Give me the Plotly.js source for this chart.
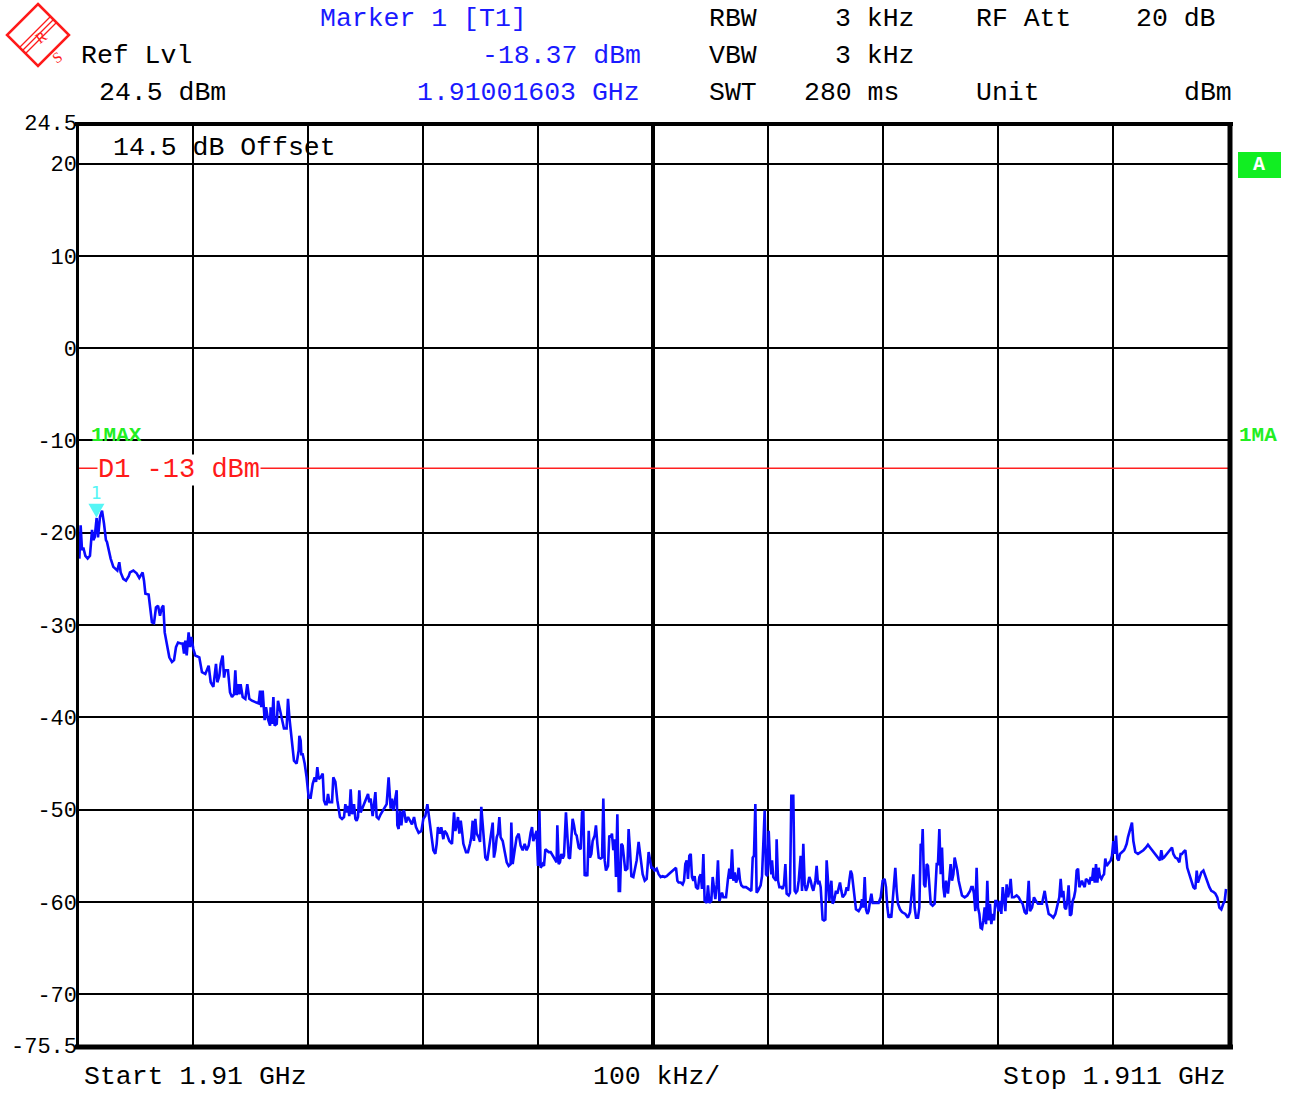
<!DOCTYPE html>
<html>
<head>
<meta charset="utf-8">
<script src="https://cdn.plot.ly/plotly-3.0.1.min.js"></script>
<style>html,body{margin:0;padding:0;background:#fff;}#chart{width:1289px;height:1093px;}</style>
</head>
<body>
<div id="chart"></div>
<script>
// ---- Data (frequency offset from start, kHz; level in dBm) ----
const startLabel = "Start 1.91 GHz";
const stopLabel = "Stop 1.911 GHz";
const spanLabel = "100 kHz/";
const spanKHz = 1000;
const divKHz = 100;

const freqKHz = [
1.2,2.3,3.5,4.6,6.4,8.4,10.4,12.2,13.3,14.5,16.2,17.4,19.1,20.9,22.6,24.3,25.2,28.4,30.7,34.2,
35.9,37.1,39.4,41.7,44.1,45.2,48.1,51.0,53.3,55.1,56.2,57.4,58.6,61.4,63.2,64.3,66.1,67.8,69.6,71.3,
73.0,74.2,75.4,77.1,79.4,81.7,83.5,85.2,87.0,89.3,91.0,92.2,93.3,94.5,96.2,97.4,98.6,100.3,102.0,105.5,
107.8,110.7,113.6,115.4,117.7,120.0,121.2,122.9,124.1,125.8,127.0,128.1,130.4,132.2,133.9,135.7,136.8,137.9,139.1,140.3,
141.4,143.2,145.5,147.2,149.0,151.3,154.8,157.1,158.3,159.4,160.6,162.3,163.5,165.2,167.0,167.5,168.7,169.9,171.0,172.8,
173.9,175.7,177.4,179.1,181.4,182.6,183.8,185.5,187.8,190.1,191.9,192.5,193.6,194.2,195.4,197.1,198.8,200.6,202.3,204.1,
205.8,207.0,208.1,209.3,211.0,212.8,213.9,215.1,216.2,217.4,218.6,220.9,222.0,223.8,225.5,227.8,229.6,231.3,232.5,233.6,
234.8,235.9,237.1,238.3,240.0,241.2,242.3,243.5,244.6,245.8,247.0,248.1,249.8,251.0,252.2,253.3,254.5,256.2,257.4,258.6,
259.7,261.4,263.2,264.9,266.6,268.4,270.1,271.9,273.0,274.2,275.9,277.1,277.7,278.8,280.0,281.2,282.3,283.5,285.2,287.0,
288.7,290.4,292.2,293.9,296.2,298.6,300.3,302.0,303.8,304.9,306.1,307.8,309.0,310.7,311.9,313.0,314.8,315.9,317.7,318.8,
320.6,322.9,325.2,327.0,328.1,329.3,330.4,331.6,332.8,333.9,335.1,337.4,339.1,340.9,342.0,343.2,344.3,345.5,346.7,348.4,
349.6,350.7,351.9,353.0,354.2,355.9,357.1,358.3,359.4,360.6,361.7,362.9,364.1,365.2,366.4,367.5,369.3,371.0,372.8,374.5,
376.2,376.8,378.0,379.7,381.4,383.2,384.9,386.7,388.4,390.1,391.9,393.6,394.8,395.9,397.7,398.8,400.0,401.2,402.3,404.1,
405.2,406.4,407.5,409.3,411.0,412.8,414.5,416.2,416.8,418.0,419.1,420.3,421.5,422.6,424.3,425.5,426.7,427.8,429.0,430.1,
431.3,432.5,433.6,435.4,437.1,438.3,439.4,440.6,441.7,442.9,444.1,445.2,446.4,447.5,449.3,450.4,451.6,452.8,454.5,455.7,
456.8,458.0,459.1,460.9,462.0,463.2,464.3,465.5,466.7,467.8,469.0,470.2,471.3,472.5,473.6,474.8,475.9,477.7,478.8,480.0,
481.2,482.9,484.1,485.8,487.5,489.3,491.0,492.8,494.5,496.2,497.4,498.6,499.7,501.4,503.2,504.9,506.7,508.4,510.1,511.9,
513.6,515.4,517.1,518.8,520.0,521.2,522.3,524.1,525.8,527.0,528.1,529.3,530.4,531.6,532.8,533.9,535.1,536.2,537.4,539.1,
540.3,541.5,542.6,543.8,544.9,546.7,547.8,549.0,550.7,551.9,553.0,554.2,555.4,556.5,557.7,558.8,560.0,561.2,563.5,565.2,
566.4,567.5,568.7,569.9,571.0,572.2,573.3,574.5,575.7,576.8,578.6,580.9,583.2,585.5,586.7,587.8,589.0,590.1,591.3,592.5,
593.6,594.8,595.9,597.1,598.3,599.4,600.6,601.7,602.9,603.5,604.6,605.8,607.0,607.5,608.7,609.9,611.6,612.8,613.9,615.1,
616.2,618.0,619.1,620.3,622.0,623.2,624.3,625.5,626.7,628.4,629.6,630.7,631.9,633.0,634.2,635.9,637.1,638.3,639.4,641.2,
642.3,643.5,644.6,645.8,647.5,648.7,649.9,651.0,652.2,653.3,655.1,656.2,657.4,659.1,660.3,661.4,662.6,663.8,664.9,666.1,
667.2,668.4,669.6,670.7,671.9,673.0,674.2,675.4,676.5,678.8,680.6,681.7,682.9,684.1,685.2,686.4,687.5,688.7,689.9,691.0,
692.8,696.2,698.0,699.7,701.4,702.6,703.8,704.9,706.1,707.2,708.4,709.6,710.7,711.9,713.0,714.8,716.5,719.4,721.7,723.5,
725.2,726.4,727.5,728.7,730.4,731.6,732.8,733.9,734.5,735.7,736.8,738.0,739.1,740.3,741.5,743.2,744.9,746.7,747.8,749.0,
750.2,751.3,752.5,753.6,754.8,756.5,757.7,758.8,760.0,761.2,762.3,763.5,764.6,765.8,767.0,768.7,771.0,773.3,775.7,776.8,
778.0,779.1,780.3,781.4,782.6,783.8,784.9,786.1,787.2,788.4,789.6,790.7,791.9,793.0,794.2,795.4,796.5,797.7,798.8,800.6,
801.7,802.9,804.1,805.2,806.4,807.5,808.7,809.9,811.0,812.2,813.9,816.2,818.0,819.7,821.4,823.2,824.9,826.7,827.8,829.6,
831.3,833.0,834.8,836.5,838.3,839.4,840.6,842.3,844.1,846.4,848.1,849.9,851.0,852.2,853.3,854.5,855.7,856.8,858.0,859.1,
860.3,861.4,862.6,863.8,864.9,866.1,867.2,868.4,869.6,870.7,871.9,873.0,874.2,875.4,876.5,878.3,879.4,880.6,881.7,882.9,
884.1,885.2,886.4,887.5,888.7,889.9,891.0,892.2,893.3,894.5,895.7,896.8,898.0,899.1,900.3,901.4,902.6,903.8,904.9,906.1,
907.8,909.6,910.7,911.9,913.0,914.2,915.4,916.5,917.7,919.4,921.7,924.1,926.4,928.7,930.4,932.2,933.9,935.7,937.4,939.1,
940.9,942.0,943.2,944.3,945.5,947.2,949.6,951.3,952.5,954.2,955.9,957.7,958.8,960.0,961.2,962.9,964.6,966.4,968.1,969.9,
971.6,972.8,973.9,975.1,976.8,978.6,980.3,982.0,983.8,985.5,987.2,989.0,990.7,992.5,994.2,995.9,997.1,998.3
];

const levelDbm = [
-22.8,-19.2,-21.9,-21.6,-22.5,-22.8,-22.5,-19.7,-20.8,-20.5,-18.4,-20.5,-18.3,-17.6,-19.0,-20.8,-21.0,-22.8,-23.7,-24.1,
-23.2,-24.3,-25.0,-25.2,-24.7,-24.3,-24.1,-24.4,-24.9,-24.6,-24.3,-25.2,-26.6,-26.7,-28.4,-29.7,-29.8,-28.1,-27.9,-29.0,
-28.1,-27.9,-30.8,-32.0,-33.5,-34.0,-33.8,-32.4,-31.9,-32.0,-32.0,-33.1,-31.7,-33.3,-30.8,-32.4,-31.3,-32.6,-33.3,-33.5,
-35.1,-35.3,-34.4,-36.2,-36.7,-34.2,-36.2,-35.5,-34.2,-33.3,-35.7,-34.9,-34.9,-37.3,-37.8,-37.5,-34.9,-37.6,-36.4,-37.5,
-36.4,-37.8,-38.0,-36.4,-38.0,-38.2,-38.4,-38.5,-37.1,-38.9,-37.1,-40.3,-38.9,-40.2,-40.9,-38.9,-40.7,-37.8,-40.9,-40.7,
-38.2,-39.3,-40.3,-41.2,-41.2,-38.0,-40.0,-42.2,-44.7,-45.0,-43.6,-42.0,-42.5,-44.0,-44.0,-45.0,-46.5,-48.7,-48.7,-47.2,
-46.5,-47.0,-45.4,-46.7,-46.5,-46.1,-49.0,-49.4,-49.4,-48.3,-49.2,-49.2,-46.5,-47.0,-49.0,-50.8,-51.0,-50.8,-49.4,-50.3,
-49.6,-50.7,-47.8,-50.5,-49.4,-51.0,-51.2,-50.8,-47.9,-50.3,-49.9,-49.7,-49.0,-48.7,-48.3,-49.2,-48.8,-50.7,-49.0,-48.1,
-50.8,-51.0,-50.5,-50.1,-49.7,-49.4,-46.5,-49.9,-48.8,-50.1,-48.8,-47.9,-51.7,-52.1,-50.1,-51.7,-50.3,-50.1,-51.4,-50.8,
-51.2,-51.6,-50.8,-51.9,-52.5,-52.3,-51.0,-50.7,-49.4,-50.5,-51.9,-53.0,-54.4,-54.8,-53.7,-51.9,-52.6,-51.9,-53.2,-52.3,
-52.6,-53.4,-53.7,-50.3,-52.3,-51.7,-50.8,-52.6,-51.2,-52.3,-53.7,-54.6,-54.6,-53.7,-53.0,-51.2,-53.4,-51.0,-52.6,-53.0,
-53.5,-49.7,-51.9,-53.0,-55.2,-55.5,-54.4,-53.4,-52.5,-51.4,-55.2,-54.4,-53.0,-52.6,-50.8,-53.0,-53.4,-54.4,-55.7,-56.1,
-55.9,-51.4,-55.9,-54.4,-53.0,-52.6,-53.9,-54.4,-53.7,-54.4,-53.9,-52.5,-51.9,-53.4,-52.6,-52.3,-56.1,-50.1,-56.3,-55.9,
-56.1,-54.3,-54.4,-54.6,-54.6,-55.0,-55.3,-55.7,-51.7,-55.9,-55.7,-54.8,-55.3,-55.0,-50.3,-53.2,-55.2,-55.3,-52.8,-51.0,
-51.7,-52.6,-52.8,-54.1,-54.3,-50.3,-50.1,-57.2,-57.0,-57.2,-52.3,-55.2,-54.8,-53.4,-52.8,-51.7,-53.7,-55.2,-55.3,-55.2,
-48.8,-55.5,-56.6,-56.1,-52.8,-53.0,-52.6,-54.4,-53.2,-57.3,-50.5,-58.8,-58.8,-53.7,-53.9,-55.0,-56.6,-56.4,-52.1,-54.4,
-57.2,-57.3,-56.6,-55.5,-53.5,-55.2,-57.0,-57.7,-57.5,-54.6,-55.5,-56.3,-56.3,-56.6,-56.4,-57.0,-57.3,-57.2,-57.3,-57.2,
-57.0,-56.8,-56.6,-56.4,-56.3,-57.7,-57.9,-57.9,-58.1,-57.7,-55.9,-55.5,-57.5,-55.0,-54.8,-57.3,-57.7,-57.2,-58.4,-58.6,
-57.3,-57.0,-58.6,-54.8,-59.9,-60.1,-58.2,-60.1,-59.9,-57.3,-58.4,-59.7,-58.1,-55.5,-59.9,-59.5,-59.0,-59.5,-59.5,-57.5,
-56.4,-57.5,-54.3,-57.7,-56.8,-57.9,-57.5,-56.3,-57.7,-58.2,-58.4,-58.4,-58.6,-58.8,-55.2,-55.0,-49.4,-59.0,-58.8,-58.4,
-58.2,-57.2,-53.4,-50.1,-57.0,-57.2,-52.3,-55.5,-57.0,-55.5,-57.3,-57.5,-57.7,-53.2,-57.7,-58.4,-58.4,-58.6,-58.1,-55.9,
-59.1,-59.3,-59.0,-48.5,-48.5,-58.8,-59.0,-58.8,-57.7,-55.0,-58.8,-53.7,-58.1,-58.8,-58.4,-57.3,-57.7,-58.4,-58.8,-57.7,
-56.1,-58.1,-57.7,-58.4,-61.9,-62.0,-61.9,-55.5,-58.4,-59.9,-57.7,-60.2,-59.9,-58.8,-59.1,-58.4,-57.9,-58.8,-59.5,-59.3,
-59.1,-58.4,-58.8,-57.7,-56.6,-57.0,-58.4,-59.5,-60.8,-61.0,-60.6,-59.7,-60.6,-57.3,-60.8,-61.3,-61.0,-59.9,-59.1,-60.1,
-60.1,-60.1,-59.5,-57.7,-57.5,-58.4,-60.6,-61.7,-61.5,-61.7,-59.9,-58.1,-56.3,-58.8,-60.2,-60.8,-61.1,-61.3,-61.7,-61.1,
-58.8,-57.0,-60.6,-61.7,-61.7,-60.6,-53.7,-54.1,-52.1,-58.1,-58.4,-55.9,-56.1,-58.8,-60.2,-60.4,-60.2,-55.9,-55.9,-52.1,
-57.0,-54.1,-58.4,-59.5,-57.7,-59.1,-57.7,-55.9,-57.7,-57.0,-55.2,-55.9,-56.6,-57.7,-58.4,-59.3,-59.5,-59.3,-58.8,-58.4,
-58.4,-59.1,-61.0,-56.3,-60.6,-61.3,-62.8,-62.9,-62.0,-60.6,-62.4,-57.7,-62.0,-60.2,-62.4,-61.3,-62.0,-59.9,-59.9,-61.0,
-59.9,-61.3,-58.4,-59.9,-61.0,-58.1,-59.5,-58.8,-57.5,-59.5,-59.5,-59.3,-59.5,-59.9,-60.2,-61.1,-61.3,-57.7,-61.0,-60.6,
-59.5,-59.9,-60.2,-60.2,-60.2,-59.5,-58.8,-60.2,-61.3,-61.5,-61.7,-61.3,-60.6,-60.2,-59.5,-57.5,-59.5,-58.8,-60.6,-60.8,
-59.9,-58.2,-61.5,-61.3,-59.9,-59.5,-58.8,-56.6,-56.4,-58.4,-58.1,-57.7,-58.1,-58.4,-57.5,-57.7,-58.1,-57.3,-57.7,-56.3,
-57.9,-55.9,-57.9,-56.3,-57.3,-57.5,-57.2,-57.0,-55.3,-56.1,-55.9,-55.7,-55.5,-55.0,-53.4,-54.8,-52.8,-55.3,-55.5,-54.8,
-54.6,-54.4,-54.1,-53.7,-53.0,-52.5,-51.9,-51.4,-53.4,-54.6,-54.8,-54.6,-54.4,-54.1,-53.8,-54.1,-54.4,-54.6,-55.0,-55.3,
-55.5,-54.4,-55.3,-55.2,-55.0,-54.8,-54.4,-54.1,-54.8,-55.2,-55.3,-55.7,-54.8,-54.8,-54.6,-54.4,-56.3,-57.0,-57.7,-58.4,
-58.6,-56.6,-57.9,-57.5,-56.8,-56.6,-57.2,-57.9,-58.4,-58.8,-58.9,-59.1,-59.5,-60.6,-60.8,-60.2,-59.9,-58.6
];

const yTickVals = [24.5, 20, 10, 0, -10, -20, -30, -40, -50, -60, -70, -75.5];
const yTickText = ["24.5", "20", "10", "0", "-10", "-20", "-30", "-40", "-50", "-60", "-70", "-75.5"];
const displayLineDbm = -13;
const markerFreqKHz = 16.03;
const markerLevelDbm = -18.37;

// ---- Layout helpers (pixel -> paper) ----
const L = 78, T = 122, W = 1150, H = 923;
const px = x => (x - L) / W;
const py = y => (T + H - y) / H;
const FONT = "Liberation Mono, Courier New, monospace";

function txt(text, x, y, opts) {
  opts = opts || {};
  return Object.assign({
    text: text, xref: "paper", yref: "paper", x: px(x), y: py(y),
    xanchor: opts.xa || "left", yanchor: "middle", showarrow: false,
    font: {family: FONT, size: opts.size || 26.5, color: opts.color || "#000"}
  }, opts.extra || {});
}

const annotations = [
  txt("Marker 1 [T1]", 318, 19, {color: "#1a1aff"}),
  txt("Ref Lvl", 79, 56),
  txt("-18.37 dBm", 643, 56, {xa: "right", color: "#1a1aff"}),
  txt("24.5 dBm", 97, 93),
  txt("1.91001603 GHz", 642, 93, {xa: "right", color: "#1a1aff"}),
  txt("RBW", 707, 19), txt("3 kHz", 917, 19, {xa: "right"}),
  txt("RF Att", 974, 19), txt("20 dB", 1218, 19, {xa: "right"}),
  txt("VBW", 707, 56), txt("3 kHz", 917, 56, {xa: "right"}),
  txt("SWT", 707, 93), txt("280 ms", 901, 93, {xa: "right"}),
  txt("Unit", 974, 93), txt("dBm", 1234, 93, {xa: "right"}),
  txt(startLabel, 82, 1077),
  txt(spanLabel, 656, 1077, {xa: "center"}),
  txt(stopLabel, 1228, 1077, {xa: "right"}),
  txt("14.5 dB Offset", 111, 148),
  txt("D1 " + displayLineDbm + " dBm", 97, 470, {color: "#ff1a1a", size: 27,
      extra: {bgcolor: "#ffffff", borderpad: 0}}),
  txt("<b>1MAX</b>", 89, 435, {color: "#22ee22", size: 21}),
  txt("<b>1MA</b>", 1237, 435, {color: "#22ee22", size: 21}),
  txt("<b>A</b>", 1259, 165, {xa: "center", color: "#ffffff", size: 20}),
  // marker number
  {text: "1", xref: "x", yref: "y", x: markerFreqKHz, y: markerLevelDbm, xanchor: "center",
   yanchor: "bottom", showarrow: false, yshift: 13,
   font: {family: "DejaVu Sans", size: 17, color: "#55f5f5"}},
  // logo letters
  {text: "R", xref: "paper", yref: "paper", x: px(30), y: py(25), showarrow: false,
   textangle: -35, font: {family: "Liberation Serif", size: 15, color: "#ff1a1a"}},
  {text: "S", xref: "paper", yref: "paper", x: px(46), y: py(46), showarrow: false,
   textangle: -35, font: {family: "Liberation Serif", size: 15, color: "#ff1a1a"}}
];

const shapes = [
  // display line D1
  {type: "line", xref: "x", yref: "y", x0: 0, x1: spanKHz, y0: displayLineDbm, y1: displayLineDbm,
   line: {color: "#ff2020", width: 1.5}, layer: "above"},
  // centre line
  {type: "line", xref: "x", yref: "paper", x0: spanKHz / 2, x1: spanKHz / 2, y0: 0, y1: 1,
   line: {color: "#000", width: 4}, layer: "below"},
  // marker triangle (tip at marker position)
  {type: "path", xref: "x", yref: "y", xsizemode: "pixel", ysizemode: "pixel",
   xanchor: markerFreqKHz, yanchor: markerLevelDbm,
   path: "M -8 14 L 8 14 L 0 0 Z", fillcolor: "#55f5f5", line: {width: 0}, layer: "above"},
  // frame
  {type: "line", xref: "paper", yref: "paper", x0: px(75), x1: px(1233), y0: py(124), y1: py(124),
   line: {color: "#000", width: 4}},
  {type: "line", xref: "paper", yref: "paper", x0: px(75), x1: px(1233), y0: py(1047), y1: py(1047),
   line: {color: "#000", width: 5}},
  {type: "line", xref: "paper", yref: "paper", x0: px(77.5), x1: px(77.5), y0: py(122), y1: py(1049),
   line: {color: "#000", width: 3}},
  {type: "line", xref: "paper", yref: "paper", x0: px(1230), x1: px(1230), y0: py(122), y1: py(1049),
   line: {color: "#000", width: 5}},
  // green "A" box
  {type: "rect", xref: "paper", yref: "paper", x0: px(1238), x1: px(1281), y0: py(178), y1: py(152),
   fillcolor: "#11ee22", line: {width: 0}},
  // R&S logo
  {type: "path", xref: "paper", yref: "paper",
   path: `M ${px(38)} ${py(4)} L ${px(69)} ${py(35)} L ${px(38)} ${py(66)} L ${px(7)} ${py(35)} Z`,
   fillcolor: "#ffffff", line: {color: "#ff1a1a", width: 2.5}},
  {type: "line", xref: "paper", yref: "paper", x0: px(20), y0: py(47), x1: px(50), y1: py(17),
   line: {color: "#ff1a1a", width: 1.3}},
  {type: "line", xref: "paper", yref: "paper", x0: px(23), y0: py(50), x1: px(53), y1: py(20),
   line: {color: "#ff1a1a", width: 1.3}},
  {type: "line", xref: "paper", yref: "paper", x0: px(26), y0: py(53), x1: px(56), y1: py(23),
   line: {color: "#ff1a1a", width: 1.3}}
];

const trace = {
  x: freqKHz, y: levelDbm, type: "scatter", mode: "lines",
  line: {color: "#0a0aff", width: 2.6}, hoverinfo: "skip"
};

const xTicks = [];
for (let v = 0; v <= spanKHz; v += divKHz) xTicks.push(v);

const layout = {
  width: 1289, height: 1093,
  margin: {l: L, r: 1289 - L - W, t: T, b: 1093 - T - H, pad: 0},
  paper_bgcolor: "#ffffff", plot_bgcolor: "#ffffff",
  showlegend: false,
  xaxis: {range: [0, spanKHz], tickvals: xTicks, showticklabels: false, ticks: "",
          showgrid: true, gridcolor: "#000", gridwidth: 2, zeroline: false, showline: false,
          fixedrange: true},
  yaxis: {range: [-75.5, 24.5], tickvals: yTickVals, ticktext: yTickText, ticks: "",
          showgrid: true, gridcolor: "#000", gridwidth: 2, zeroline: false, showline: false,
          tickfont: {family: FONT, size: 22, color: "#000"}, ticklabelstandoff: 0,
          fixedrange: true},
  shapes: shapes,
  annotations: annotations
};

Plotly.newPlot("chart", [trace], layout, {staticPlot: true, displayModeBar: false});
</script>
</body>
</html>
